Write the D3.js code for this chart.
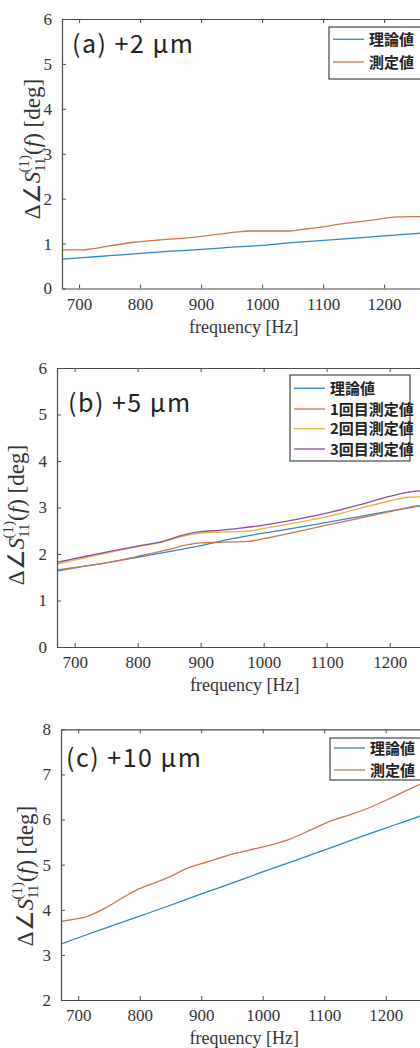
<!DOCTYPE html>
<html><head><meta charset="utf-8">
<script src="https://cdn.jsdelivr.net/npm/d3@7"></script>
<style>
html,body{margin:0;padding:0;background:#fff;}
svg{display:block;}
</style></head>
<body>
<svg id="c" width="420" height="1048"></svg>
<script>
// ---------- data ----------
const xTicks = [700, 800, 900, 1000, 1100, 1200];
const yTicksAB = [0, 1, 2, 3, 4, 5, 6];
const yTicksC = [2, 3, 4, 5, 6, 7, 8];

const seriesNamesA = ["理論値", "測定値"];
const seriesNamesB = ["理論値", "1回目測定値", "2回目測定値", "3回目測定値"];
const seriesNamesC = ["理論値", "測定値"];

const titleA = "(a) +2 µm";
const titleB = "(b) +5 µm";
const titleC = "(c) +10 µm";

// panel (a)
const freqTheoryA = [672, 700, 750, 800, 850, 900, 950, 1000, 1050, 1100, 1150, 1200, 1250, 1268];
const theoryA     = [0.65, 0.68, 0.73, 0.78, 0.83, 0.87, 0.92, 0.96, 1.02, 1.07, 1.12, 1.17, 1.22, 1.24];
const freqMeasA = [672, 705, 720, 750, 790, 830, 870, 900, 930, 960, 980, 1000, 1045, 1075, 1100, 1130, 1160, 1190, 1215, 1240, 1268];
const measA     = [0.86, 0.86, 0.88, 0.95, 1.03, 1.08, 1.12, 1.16, 1.21, 1.26, 1.28, 1.28, 1.28, 1.33, 1.37, 1.44, 1.49, 1.54, 1.59, 1.60, 1.60];

// panel (b)
const freqTheoryB = [672, 700, 750, 800, 850, 900, 950, 1000, 1050, 1100, 1150, 1200, 1250, 1268];
const theoryB     = [1.63, 1.70, 1.81, 1.93, 2.05, 2.18, 2.33, 2.45, 2.56, 2.68, 2.80, 2.92, 3.04, 3.08];
const freqMeas1B = [672, 700, 750, 800, 850, 880, 900, 925, 950, 975, 1000, 1050, 1100, 1150, 1200, 1240, 1268];
const meas1B     = [1.66, 1.71, 1.81, 1.95, 2.10, 2.20, 2.24, 2.25, 2.26, 2.27, 2.33, 2.47, 2.62, 2.76, 2.91, 3.03, 3.08];
const freqMeas2B = [672, 700, 750, 800, 840, 870, 900, 930, 960, 980, 1000, 1050, 1100, 1150, 1200, 1230, 1268];
const meas2B     = [1.78, 1.87, 2.02, 2.16, 2.26, 2.38, 2.45, 2.47, 2.48, 2.50, 2.55, 2.67, 2.80, 2.97, 3.14, 3.22, 3.23];
const freqMeas3B = [672, 700, 750, 800, 840, 870, 900, 930, 960, 1000, 1050, 1100, 1150, 1200, 1230, 1268];
const meas3B     = [1.82, 1.90, 2.04, 2.17, 2.27, 2.40, 2.48, 2.51, 2.55, 2.62, 2.74, 2.88, 3.05, 3.24, 3.33, 3.37];

// panel (c)
const freqTheoryC = [672, 700, 750, 800, 850, 900, 950, 1000, 1050, 1100, 1150, 1200, 1250, 1268];
const theoryC     = [3.24, 3.38, 3.62, 3.86, 4.10, 4.35, 4.59, 4.84, 5.08, 5.32, 5.57, 5.81, 6.05, 6.14];
const freqMeasC = [672, 690, 716, 743, 770, 792, 825, 850, 874, 910, 955, 980, 1009, 1041, 1080, 1113, 1145, 1171, 1204, 1235, 1256, 1268];
const measC     = [3.74, 3.78, 3.86, 4.03, 4.25, 4.42, 4.60, 4.74, 4.90, 5.06, 5.25, 5.33, 5.42, 5.55, 5.78, 5.98, 6.12, 6.25, 6.45, 6.65, 6.78, 6.85];

const xDomain = [672, 1268];

// ---------- style ----------
const colors = ["#2f86c0", "#c9764a", "#e3b33a", "#8a4f96"];
const serif = "'Liberation Serif','Times New Roman',serif";
const cjk = "'Noto Sans CJK JP','Noto Sans',sans-serif";

const svg = d3.select("#c");

const panels = [
  { left: 62, right: 425.6, top: 19, bottom: 288.5, yDomain: [0, 6], yTicks: yTicksAB, title: titleA,
    titleX: 72, titleY: 53, ylabX: 40, ylabY: 149,
    series: [[freqTheoryA, theoryA], [freqMeasA, measA]], names: seriesNamesA,
    leg: { x: 329, y: 27, h: 52, rows: [39.3, 62] } },
  { left: 57, right: 432.5, top: 368, bottom: 647, yDomain: [0, 6], yTicks: yTicksAB, title: titleB,
    titleX: 68, titleY: 412, ylabX: 24, ylabY: 515,
    series: [[freqTheoryB, theoryB], [freqMeas1B, meas1B], [freqMeas2B, meas2B], [freqMeas3B, meas3B]], names: seriesNamesB,
    leg: { x: 290, y: 375, h: 86, rows: [388.3, 409, 428.7, 449] } },
  { left: 61, right: 427.5, top: 729.3, bottom: 1000, yDomain: [2, 8], yTicks: yTicksC, title: titleC,
    titleX: 66, titleY: 767, ylabX: 33, ylabY: 876,
    series: [[freqTheoryC, theoryC], [freqMeasC, measC]], names: seriesNamesC,
    leg: { x: 330, y: 738, h: 42, rows: [748, 770] } }
];

panels.forEach((p, pi) => {
  const x = d3.scaleLinear().domain(xDomain).range([p.left, p.right]);
  const y = d3.scaleLinear().domain(p.yDomain).range([p.bottom, p.top]);
  const g = svg.append("g");

  // lines
  const line = d3.line().x(d => x(d[0])).y(d => y(d[1])).curve(d3.curveMonotoneX);
  p.series.forEach((s, i) => {
    const pts = s[0].map((f, k) => [f, s[1][k]]);
    g.append("path").attr("d", line(pts)).attr("fill", "none")
      .attr("stroke", colors[i]).attr("stroke-width", 1.3);
  });

  // axes (MATLAB style, ticks inward)
  const axColor = "#4a4a4a";
  const fmt = d3.format("d");
  const bottomAx = g.append("g").attr("transform", `translate(0,${p.bottom})`)
    .call(d3.axisBottom(x).tickValues(xTicks).tickFormat(fmt).tickSizeInner(-4).tickSizeOuter(0).tickPadding(9));
  const topAx = g.append("g").attr("transform", `translate(0,${p.top})`)
    .call(d3.axisTop(x).tickValues(xTicks).tickSizeInner(-4).tickSizeOuter(0).tickFormat(""));
  const leftAx = g.append("g").attr("transform", `translate(${p.left},0)`)
    .call(d3.axisLeft(y).tickValues(p.yTicks).tickFormat(fmt).tickSizeInner(-4).tickSizeOuter(0).tickPadding(10));
  [bottomAx, topAx, leftAx].forEach(a => {
    a.select(".domain").attr("stroke", axColor).attr("stroke-width", 1.2);
    a.selectAll(".tick line").attr("stroke", axColor).attr("stroke-width", 1);
    a.selectAll("text").attr("fill", "#333").attr("font-family", serif).attr("font-size", 17);
  });
  bottomAx.selectAll("text").attr("dy", "0.72em");

  // x label
  g.append("text").attr("x", (p.left + p.right) / 2).attr("y", p.bottom + 44)
    .attr("text-anchor", "middle").attr("font-family", serif).attr("font-size", 18)
    .attr("fill", "#333").text("frequency [Hz]");

  // y label
  const yl = g.append("text").attr("transform", `translate(${p.ylabX},${p.ylabY}) rotate(-90)`)
    .attr("text-anchor", "middle").attr("font-family", serif).attr("font-size", 23).attr("fill", "#333");
  yl.append("tspan").text("Δ∠");
  yl.append("tspan").attr("font-style", "italic").text("S");
  yl.append("tspan").attr("font-size", 15).attr("dy", 5).text("11");
  yl.append("tspan").attr("font-size", 15).attr("dx", -15).attr("dy", -16).text("(1)");
  yl.append("tspan").attr("dy", 11).text("(");
  yl.append("tspan").attr("font-style", "italic").text("f");
  yl.append("tspan").text(") [deg]");

  // title
  g.append("text").attr("x", p.titleX).attr("y", p.titleY).attr("font-family", cjk)
    .attr("font-size", 25).attr("letter-spacing", 1.5).attr("fill", "#222").text(p.title);

  // legend
  const L = p.leg;
  g.append("rect").attr("x", L.x).attr("y", L.y).attr("width", 120).attr("height", L.h)
    .attr("fill", "#fff").attr("stroke", "#333").attr("stroke-width", 1.1);
  p.names.forEach((n, i) => {
    g.append("line").attr("x1", L.x + 4).attr("x2", L.x + 35).attr("y1", L.rows[i]).attr("y2", L.rows[i])
      .attr("stroke", colors[i]).attr("stroke-width", 1.3);
    g.append("text").attr("x", L.x + 40).attr("y", L.rows[i] + 5.5).attr("font-family", cjk)
      .attr("font-size", 15).attr("font-weight", "bold").attr("fill", "#222").text(n);
  });
});
</script>
</body></html>
